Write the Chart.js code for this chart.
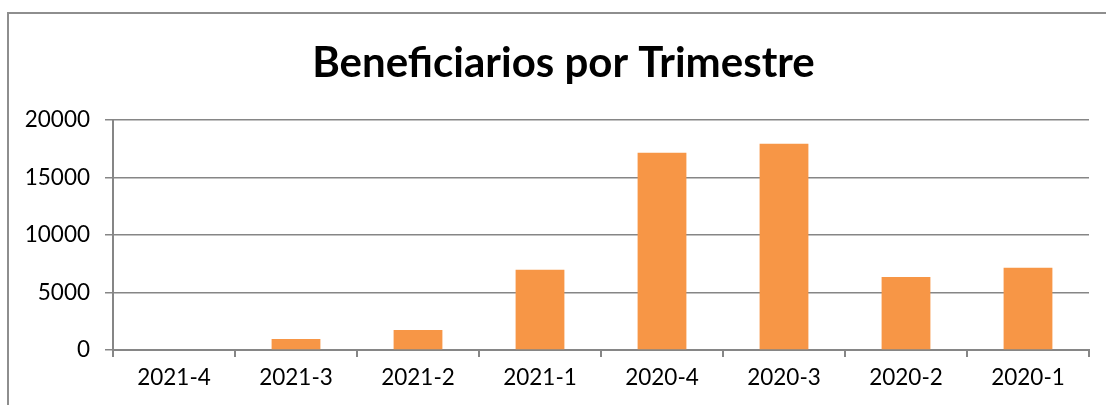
<!DOCTYPE html>
<html>
<head>
<meta charset="utf-8">
<script src="https://cdn.jsdelivr.net/npm/chart.js@4"></script>
<style>
  html, body { margin: 0; padding: 0; background: #fff; overflow: hidden; }
  #wrap { position: relative; width: 1106px; height: 405px; }
  #frame {
    position: absolute; left: 7px; top: 12px; width: 1200px; height: 500px;
    border-top: 2px solid #8e8e8e; border-left: 2px solid #8e8e8e;
  }
  canvas { position: absolute; left: 0; top: 0; }
</style>
</head>
<body>
<div id="wrap">
  <div id="frame"></div>
  <canvas id="myChart" width="1106" height="405"></canvas>
</div>
<script>
const trimestres = ["2021-4", "2021-3", "2021-2", "2021-1", "2020-4", "2020-3", "2020-2", "2020-1"];
const beneficiarios = [0, 960, 1740, 6980, 17150, 17940, 6350, 7160];
const yTicks = [0, 5000, 10000, 15000, 20000];

const axisGray = "#868686";
const fontName = "Lato, sans-serif";

// the original title sits a bit right of the canvas centre
const shiftTitle = {
  id: "shiftTitle",
  afterLayout(chart) {
    if (chart.titleBlock) {
      chart.titleBlock.left += 38;
    }
  },
};

const ctx = document.getElementById("myChart");
new Chart(ctx, {
  type: "bar",
  data: {
    labels: trimestres,
    datasets: [
      {
        label: "Beneficiarios",
        data: beneficiarios,
        backgroundColor: "#F79646",
        borderWidth: 0,
        barPercentage: 0.4,
        categoryPercentage: 1,
      },
    ],
  },
  plugins: [shiftTitle],
  options: {
    responsive: false,
    animation: false,
    layout: {
      padding: { left: 0, right: 17, top: 0, bottom: 0 },
    },
    plugins: {
      legend: { display: false },
      tooltip: { enabled: false },
      title: {
        display: true,
        text: "Beneficiarios por Trimestre",
        color: "#000",
        font: { family: fontName, size: 42, weight: "bold", lineHeight: 1.2 },
        padding: { top: 38, bottom: 31.6 },
      },
    },
    scales: {
      x: {
        offset: true,
        grid: {
          offset: true,
          drawOnChartArea: false,
          drawTicks: true,
          tickLength: 7,
          color: axisGray,
          lineWidth: 2,
        },
        border: { display: true, color: axisGray, width: 2 },
        ticks: {
          color: "#000",
          padding: 7,
          font: { family: fontName, size: 22.5 },
        },
        afterFit(scale) {
          scale.height = 55;
        },
      },
      y: {
        min: 0,
        max: 20000,
        afterBuildTicks(scale) {
          scale.ticks = yTicks.map((v) => ({ value: v }));
        },
        grid: {
          color: axisGray,
          lineWidth: 1.5,
          drawTicks: true,
          tickLength: 8,
        },
        border: { display: true, color: axisGray, width: 2 },
        ticks: {
          color: "#000",
          padding: 15,
          font: { family: fontName, size: 22.5 },
          callback: (value) => String(value),
        },
        afterFit(scale) {
          scale.width = 113;
        },
      },
    },
  },
});
</script>
</body>
</html>
